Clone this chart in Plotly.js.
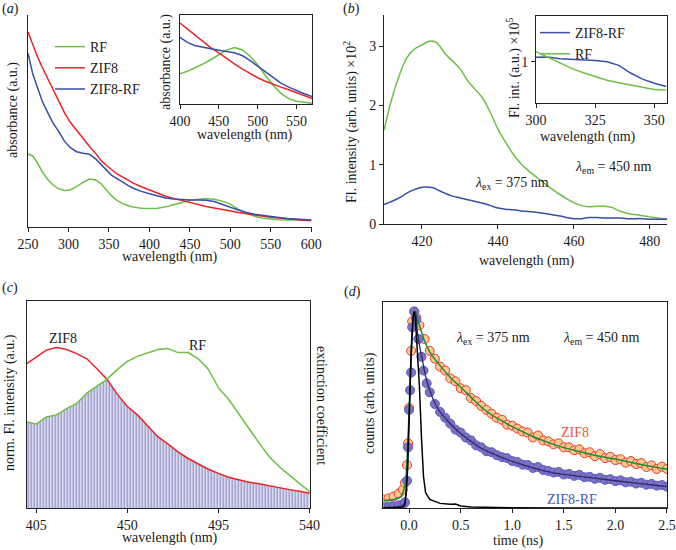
<!DOCTYPE html>
<html>
<head>
<meta charset="utf-8">
<script src="https://cdn.plot.ly/plotly-3.0.1.min.js"></script>
<style>html,body{margin:0;padding:0;background:#fff}#chart{width:676px;height:550px}</style>
</head>
<body>
<div id="chart"></div>
<script>
// ---------- Panel (a): absorbance ----------
const aWl = [250,256,262,268,275,281,288,295,302,310,318,326,334,340,347,353,360,367,374,380,390,400,410,420,430,440,450,460,470,480,490,500,510,520,530,540,550,560,570,580,590,600];
const aRF = [0.344,0.335,0.3,0.258,0.222,0.198,0.18,0.172,0.175,0.19,0.21,0.226,0.222,0.205,0.175,0.148,0.125,0.11,0.1,0.094,0.089,0.087,0.089,0.095,0.105,0.116,0.125,0.131,0.133,0.131,0.122,0.108,0.083,0.064,0.05,0.041,0.036,0.034,0.033,0.033,0.033,0.033];
const aZIF8 = [0.92,0.86,0.8,0.75,0.695,0.645,0.59,0.54,0.495,0.455,0.415,0.38,0.345,0.315,0.29,0.27,0.25,0.235,0.22,0.207,0.19,0.175,0.16,0.145,0.135,0.125,0.115,0.105,0.097,0.09,0.082,0.075,0.068,0.062,0.056,0.05,0.046,0.042,0.038,0.035,0.032,0.03];
const aZIF8RF = [0.82,0.72,0.655,0.59,0.535,0.49,0.45,0.405,0.375,0.355,0.348,0.343,0.32,0.295,0.265,0.245,0.228,0.21,0.195,0.183,0.168,0.157,0.146,0.137,0.132,0.128,0.127,0.127,0.126,0.12,0.108,0.093,0.08,0.068,0.06,0.054,0.049,0.045,0.04,0.037,0.035,0.033];
// inset (a)
const aiWl = [400,410,420,430,440,450,460,470,480,490,500,510,520,530,540,550,560,570];
const aiRF = [0.34,0.37,0.41,0.45,0.5,0.555,0.605,0.635,0.61,0.54,0.44,0.32,0.21,0.12,0.06,0.03,0.015,0.008];
const aiZIF8 = [0.91,0.84,0.77,0.7,0.63,0.575,0.51,0.45,0.395,0.34,0.295,0.255,0.22,0.19,0.16,0.125,0.09,0.06];
const aiZIF8RF = [0.75,0.69,0.655,0.635,0.62,0.605,0.59,0.575,0.545,0.49,0.425,0.36,0.29,0.235,0.19,0.15,0.115,0.085];
const aTicks = [250,300,350,400,450,500,550,600];
const aiTicks = [400,450,500,550];

// ---------- Panel (b): fluorescence ----------
const bWl = [410,412,414,416,418,420,422,423,424,426,428,430,432,434,436,438,440,442,444,446,448,450,452,454,456,458,460,462,464,466,468,470,472,474,476,478,480,482,484.6];
const bRF = [1.58,2.1,2.5,2.8,2.95,3.02,3.08,3.08,3.05,2.88,2.75,2.62,2.42,2.27,2.12,1.88,1.6,1.38,1.18,1.02,0.9,0.8,0.7,0.6,0.51,0.43,0.36,0.31,0.29,0.3,0.3,0.28,0.22,0.18,0.16,0.14,0.12,0.1,0.08];
const bZIF8RF = [0.33,0.38,0.44,0.52,0.58,0.62,0.62,0.61,0.58,0.52,0.47,0.44,0.41,0.38,0.35,0.31,0.27,0.25,0.24,0.22,0.21,0.2,0.18,0.16,0.14,0.11,0.09,0.09,0.11,0.11,0.1,0.1,0.1,0.09,0.09,0.09,0.08,0.08,0.08];
const biWl = [300,305,310,315,320,325,330,335,340,345,350,355];
const biZIF8RF = [1.043,1.046,1.03,1.025,1.02,1.012,1.0,0.965,0.89,0.83,0.79,0.758];
const biRF = [1.098,1.043,0.984,0.935,0.893,0.854,0.82,0.795,0.77,0.75,0.73,0.724];
const bTicks = [420,440,460,480];
const bYTicks = [0,1,2,3];
const biTicks = [300,325,350];

// ---------- Panel (c): spectral overlap ----------
const cWl = [400,405,410,415,420,425,430,435,440,445,450,455,460,465,470,475,480,485,490,495,500,505,510,515,520,525,530,535,540];
const cZIF8 = [0.695,0.73,0.762,0.775,0.765,0.745,0.72,0.672,0.62,0.55,0.49,0.45,0.4,0.345,0.31,0.272,0.24,0.212,0.188,0.168,0.15,0.138,0.126,0.118,0.108,0.1,0.09,0.082,0.072];
const cRF = [0.417,0.405,0.44,0.45,0.48,0.505,0.555,0.588,0.622,0.668,0.708,0.732,0.748,0.765,0.77,0.75,0.75,0.72,0.67,0.58,0.525,0.455,0.38,0.315,0.25,0.2,0.16,0.12,0.08];
const cTicks = [405,450,495,540];

// ---------- Panel (d): decay ----------
const dT_ZIF8 = [-0.25,-0.2,-0.15,-0.1,-0.06,-0.04,-0.02,-0.01,0,0.02,0.03,0.05,0.07,0.1,0.15,0.2,0.25,0.3,0.35,0.4,0.45,0.5,0.55,0.6,0.65,0.7,0.75,0.8,0.85,0.9,0.95,1.0,1.05,1.1,1.15,1.2,1.25,1.3,1.35,1.4,1.45,1.5,1.55,1.6,1.65,1.7,1.75,1.8,1.85,1.9,1.95,2.0,2.05,2.1,2.15,2.2,2.25,2.3,2.35,2.4,2.45,2.5];
const dY_ZIF8 = [0.045,0.05,0.06,0.075,0.095,0.13,0.22,0.33,0.51,0.8,0.95,1.0,0.97,0.93,0.86,0.8,0.76,0.72,0.7,0.66,0.645,0.61,0.6,0.56,0.545,0.52,0.5,0.48,0.46,0.45,0.425,0.42,0.405,0.39,0.385,0.36,0.37,0.345,0.34,0.325,0.33,0.31,0.31,0.295,0.3,0.28,0.285,0.265,0.275,0.255,0.262,0.245,0.25,0.232,0.24,0.225,0.23,0.21,0.218,0.2,0.212,0.2];
const dT_ZIF8RF = [-0.25,-0.2,-0.15,-0.1,-0.06,-0.04,-0.02,-0.01,0,0.01,0.02,0.03,0.05,0.07,0.09,0.12,0.14,0.17,0.2,0.25,0.3,0.35,0.4,0.45,0.5,0.55,0.6,0.65,0.7,0.75,0.8,0.85,0.9,0.95,1.0,1.05,1.1,1.15,1.2,1.25,1.3,1.35,1.4,1.45,1.5,1.55,1.6,1.65,1.7,1.75,1.8,1.85,1.9,1.95,2.0,2.05,2.1,2.15,2.2,2.25,2.3,2.35,2.4,2.45,2.5];
const dY_ZIF8RF = [0.005,0.008,0.01,0.015,0.02,0.03,0.14,0.31,0.5,0.6,0.69,0.92,1.0,0.96,0.86,0.77,0.7,0.635,0.59,0.53,0.49,0.46,0.43,0.4,0.385,0.36,0.345,0.32,0.31,0.29,0.285,0.27,0.26,0.255,0.24,0.235,0.222,0.22,0.205,0.21,0.195,0.19,0.182,0.185,0.172,0.175,0.165,0.17,0.158,0.16,0.15,0.155,0.145,0.148,0.138,0.142,0.132,0.135,0.126,0.13,0.12,0.124,0.115,0.118,0.11];
const dFitT_ZIF8 = [-0.25,-0.15,-0.08,-0.04,-0.02,0,0.02,0.04,0.06,0.1,0.15,0.2,0.3,0.4,0.5,0.6,0.7,0.8,0.9,1.0,1.2,1.4,1.6,1.8,2.0,2.2,2.4,2.5];
const dFit_ZIF8 = [0.04,0.045,0.06,0.12,0.25,0.5,0.78,0.96,1.0,0.93,0.85,0.795,0.725,0.665,0.615,0.565,0.515,0.475,0.445,0.415,0.365,0.325,0.295,0.27,0.25,0.228,0.208,0.198];
const dFitT_ZIF8RF = [-0.25,-0.1,-0.05,-0.02,0,0.02,0.04,0.06,0.08,0.1,0.13,0.16,0.2,0.25,0.3,0.4,0.5,0.6,0.7,0.8,0.9,1.0,1.2,1.4,1.6,1.8,2.0,2.2,2.4,2.5];
const dFit_ZIF8RF = [0.005,0.008,0.02,0.14,0.45,0.8,0.97,1.0,0.9,0.83,0.75,0.67,0.6,0.535,0.49,0.43,0.38,0.34,0.305,0.28,0.258,0.238,0.205,0.18,0.166,0.153,0.14,0.128,0.116,0.11];
const dIRF_T = [-0.25,-0.1,-0.06,-0.04,-0.02,0,0.02,0.04,0.05,0.06,0.08,0.1,0.12,0.14,0.16,0.2,0.3,0.4,0.45,0.5,0.6,0.8,1.0,1.5,2.0,2.5];
const dIRF = [0.0,0.002,0.005,0.02,0.15,0.45,0.78,0.98,1.0,0.97,0.82,0.62,0.36,0.16,0.08,0.045,0.025,0.02,0.022,0.012,0.006,0.004,0.003,0.002,0.002,0.002];
const dTicks = [0,0.5,1,1.5,2,2.5];

// ---------- helpers ----------
const W = 676, H = 550;
const px = x => x / W;
const py = y => 1 - y / H;
const GREEN = '#6dbf45', RED = '#ec2227', BLUE = '#3a4ea8';
const FONT = '"Liberation Serif", "Times New Roman", Times, serif';
const TXT = '#1a1a1a';
const FS = 14;

function axis(d0, d1, range, extra, isY) {
  return Object.assign({
    domain: isY ? [py(d1), py(d0)] : [px(d0), px(d1)],
    range: range, showline: true, linecolor: '#222', linewidth: 1,
    showgrid: false, zeroline: false, ticks: 'outside', ticklen: 4, tickwidth: 1,
    tickcolor: '#222', tickfont: {family: FONT, size: FS, color: TXT}, fixedrange: true
  }, extra);
}

const cOverlap = cWl.map((w, i) => Math.min(cZIF8[i], cRF[i]));

const traces = [
  // (a) main
  {x: aWl, y: aRF, xaxis: 'x', yaxis: 'y', mode: 'lines', name: 'RF', line: {color: GREEN, width: 1.5}, legend: 'legend'},
  {x: aWl, y: aZIF8, xaxis: 'x', yaxis: 'y', mode: 'lines', name: 'ZIF8', line: {color: RED, width: 1.5}, legend: 'legend'},
  {x: aWl, y: aZIF8RF, xaxis: 'x', yaxis: 'y', mode: 'lines', name: 'ZIF8-RF', line: {color: BLUE, width: 1.5}, legend: 'legend'},
  // (a) inset
  {x: aiWl, y: aiRF, xaxis: 'x2', yaxis: 'y2', mode: 'lines', showlegend: false, line: {color: GREEN, width: 1.5}},
  {x: aiWl, y: aiZIF8, xaxis: 'x2', yaxis: 'y2', mode: 'lines', showlegend: false, line: {color: RED, width: 1.5}},
  {x: aiWl, y: aiZIF8RF, xaxis: 'x2', yaxis: 'y2', mode: 'lines', showlegend: false, line: {color: BLUE, width: 1.5}},
  // (b) main
  {x: bWl, y: bRF, xaxis: 'x3', yaxis: 'y3', mode: 'lines', showlegend: false, line: {color: GREEN, width: 1.5, shape: 'spline'}},
  {x: bWl, y: bZIF8RF, xaxis: 'x3', yaxis: 'y3', mode: 'lines', showlegend: false, line: {color: BLUE, width: 1.5, shape: 'spline'}},
  // (b) inset
  {x: biWl, y: biZIF8RF, xaxis: 'x4', yaxis: 'y4', mode: 'lines', name: 'ZIF8-RF', line: {color: BLUE, width: 1.5}, legend: 'legend2'},
  {x: biWl, y: biRF, xaxis: 'x4', yaxis: 'y4', mode: 'lines', name: 'RF', line: {color: GREEN, width: 1.5}, legend: 'legend2'},
  // (c)
  {x: cWl, y: cOverlap, xaxis: 'x5', yaxis: 'y5', mode: 'lines', showlegend: false, line: {width: 0, color: 'rgba(0,0,0,0)'},
   fill: 'tozeroy', fillcolor: '#e4e4f0',
   fillpattern: {shape: '|', fgcolor: '#8f8fc8', bgcolor: '#e6e6f1', size: 3, solidity: 0.45}},
  {x: cWl, y: cZIF8, xaxis: 'x5', yaxis: 'y5', mode: 'lines', showlegend: false, line: {color: RED, width: 1.5}},
  {x: cWl, y: cRF, xaxis: 'x5', yaxis: 'y5', mode: 'lines', showlegend: false, line: {color: GREEN, width: 1.5}},
  // (d)
  {x: dT_ZIF8, y: dY_ZIF8, xaxis: 'x6', yaxis: 'y6', mode: 'markers', showlegend: false,
   marker: {size: 9, color: '#fdc88e', line: {color: '#f0382a', width: 1}}},
  {x: dT_ZIF8RF, y: dY_ZIF8RF, xaxis: 'x6', yaxis: 'y6', mode: 'markers', showlegend: false,
   marker: {size: 9, color: '#8170bb', line: {color: '#4e5cd0', width: 1}}},
  {x: dFitT_ZIF8, y: dFit_ZIF8, xaxis: 'x6', yaxis: 'y6', mode: 'lines', showlegend: false, line: {color: '#1b8a3a', width: 1.5, shape: 'spline'}},
  {x: dFitT_ZIF8RF, y: dFit_ZIF8RF, xaxis: 'x6', yaxis: 'y6', mode: 'lines', showlegend: false, line: {color: '#2b2b6e', width: 1.3, shape: 'spline'}},
  {x: dIRF_T, y: dIRF, xaxis: 'x6', yaxis: 'y6', mode: 'lines', showlegend: false, line: {color: '#000', width: 1.5}}
];

function ann(text, x, y, opts) {
  return Object.assign({text: text, x: px(x), y: py(y), xref: 'paper', yref: 'paper', showarrow: false,
    xanchor: 'center', yanchor: 'middle', font: {family: FONT, size: FS, color: TXT}}, opts || {});
}

const annotations = [
  ann('(<i>a</i>)', 10, 9),
  ann('(<i>b</i>)', 351, 9),
  ann('(<i>c</i>)', 10, 288),
  ann('(<i>d</i>)', 352, 292),
  // (a)
  ann('wavelength (nm)', 170, 257),
  ann('absorbance (a.u.)', 13, 110, {textangle: -90}),
  ann('wavelength (nm)', 245, 135),
  ann('absorbance (a.u.)', 166, 62, {textangle: -90}),
  // (b)
  ann('wavelength (nm)', 527, 261),
  ann('Fl. intensity (arb. units) ×10<sup>2</sup>', 351, 122, {textangle: -90}),
  ann('wavelength (nm)', 588, 137),
  ann('Fl. int. (a.u.) ×10<sup>5</sup>', 513, 68, {textangle: -90}),
  ann('<i>λ</i><sub>ex</sub> = 375 nm', 512, 184),
  ann('<i>λ</i><sub>em</sub> = 450 nm', 613, 167),
  // (c)
  ann('wavelength (nm)', 170, 538),
  ann('norm. Fl. intensity (a.u.)', 10, 403, {textangle: -90}),
  ann('extinction coefficient', 322, 405, {textangle: 90}),
  ann('ZIF8', 63, 338),
  ann('RF', 197, 345),
  // (d)
  ann('time (ns)', 518, 541),
  ann('counts (arb. units)', 370, 403, {textangle: -90}),
  ann('<i>λ</i><sub>ex</sub> = 375 nm', 493, 338),
  ann('<i>λ</i><sub>em</sub> = 450 nm', 601, 338),
  ann('ZIF8', 575, 432, {font: {family: FONT, size: FS, color: '#f0553a'}}),
  ann('ZIF8-RF', 572, 499, {font: {family: FONT, size: FS, color: '#4656bb'}})
];

const layout = {
  width: W, height: H, margin: {l: 0, r: 0, t: 0, b: 0},
  paper_bgcolor: '#fff', plot_bgcolor: '#fff',
  font: {family: FONT, size: FS, color: TXT},
  xaxis: axis(28, 311.7, [250, 600.5], {anchor: 'y', tickvals: aTicks}),
  yaxis: axis(15, 227, [0, 1], {anchor: 'x', ticks: '', showticklabels: false}, true),
  xaxis2: axis(180, 312, [400, 570], {anchor: 'y2', tickvals: aiTicks, mirror: true}),
  yaxis2: axis(15, 104, [0, 1], {anchor: 'x2', ticks: '', showticklabels: false, mirror: true}, true),
  xaxis3: axis(384, 667.3, [410, 484.6], {anchor: 'y3', tickvals: bTicks}),
  yaxis3: axis(15, 224, [0, 3.524], {anchor: 'x3', tickvals: bYTicks}, true),
  xaxis4: axis(536, 667.3, [300, 355.5], {anchor: 'y4', tickvals: biTicks, mirror: true}),
  yaxis4: axis(15.7, 102.7, [0.6, 1.45], {anchor: 'x4', tickvals: [1], mirror: true}, true),
  xaxis5: axis(26.7, 310, [400.3, 540.2], {anchor: 'y5', tickvals: cTicks, mirror: true}),
  yaxis5: axis(300.7, 508.3, [0, 1], {anchor: 'x5', ticks: '', showticklabels: false, mirror: true}, true),
  xaxis6: axis(383.3, 667.3, [-0.25, 2.503], {anchor: 'y6', tickvals: dTicks, ticktext: ['0.0','0.5','1.0','1.5','2.0','2.5'], mirror: true}),
  yaxis6: axis(301.7, 508.3, [0, 1.05], {anchor: 'x6', ticks: '', showticklabels: false, mirror: true}, true),
  legend: {x: px(50), y: py(31), xanchor: 'left', yanchor: 'top', bgcolor: 'rgba(0,0,0,0)',
    font: {family: FONT, size: FS, color: TXT}, itemwidth: 30, tracegroupgap: 0},
  legend2: {x: px(535), y: py(17), xanchor: 'left', yanchor: 'top', bgcolor: 'rgba(0,0,0,0)',
    font: {family: FONT, size: FS, color: TXT}, itemwidth: 30, tracegroupgap: 0},
  annotations: annotations,
  showlegend: true
};

Plotly.newPlot('chart', traces, layout, {staticPlot: true, displayModeBar: false});
</script>
</body>
</html>
